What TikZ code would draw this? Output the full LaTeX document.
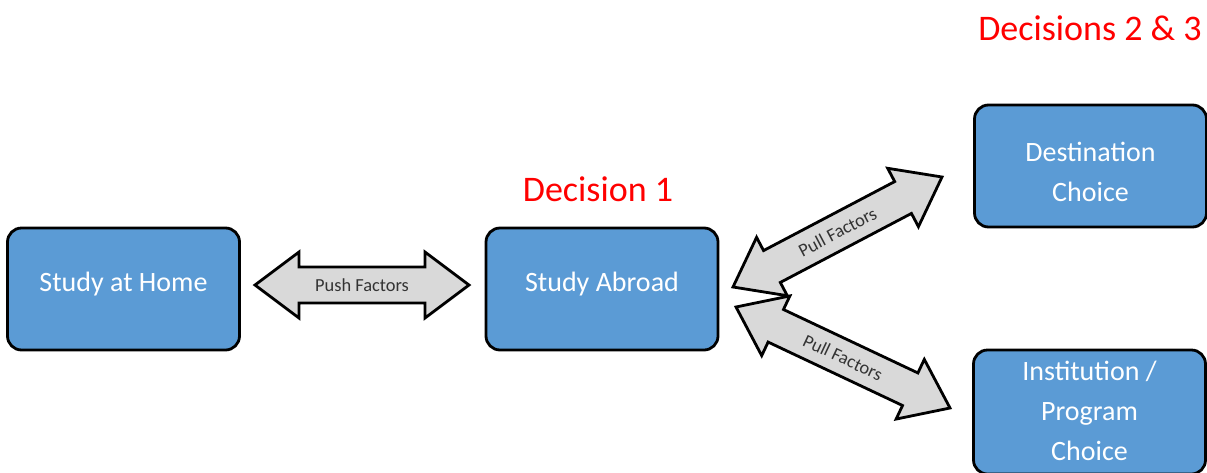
\documentclass[tikz,border=0pt]{standalone}
\usepackage{fontspec}
\setmainfont{Carlito}
\usetikzlibrary{calc}
\definecolor{boxblue}{HTML}{5B9BD5}
\definecolor{arrgray}{HTML}{D9D9D9}
\definecolor{decred}{HTML}{FF0000}
\def\ahl{44pt}
\def\ahw{33pt}
\def\asw{18pt}
% block double arrow between two named coordinates, with a label
\newcommand{\blockarrow}[3]{%
  \draw[blockarr] (#1)
    -- ($(#1)!\ahl!(#2)!\ahw!90:(#2)$)
    -- ($(#1)!\ahl!(#2)!\asw!90:(#2)$)
    -- ($(#2)!\ahl!(#1)!\asw!-90:(#1)$)
    -- ($(#2)!\ahl!(#1)!\ahw!-90:(#1)$)
    -- (#2)
    -- ($(#2)!\ahl!(#1)!\ahw!90:(#1)$)
    -- ($(#2)!\ahl!(#1)!\asw!90:(#1)$)
    -- ($(#1)!\ahl!(#2)!\asw!-90:(#2)$)
    -- ($(#1)!\ahl!(#2)!\ahw!-90:(#2)$)
    -- cycle;
  \path (#1) -- (#2) node[midway, sloped, arrlabel] {#3};
}
\newcommand{\shifttext}[2]{\raisebox{#1}[\height][\depth]{#2}}
\newcommand{\boxlines}[2]{\raisebox{#1}[\height][\depth]{\begin{tabular}{@{}c@{}}#2\end{tabular}}}
\begin{document}
\begin{tikzpicture}[x=1pt,y=-1pt,
  box/.style={draw=black, line width=2.8pt, fill=boxblue, rounded corners=14pt,
    minimum width=232pt, minimum height=122pt, text=white, align=center,
    inner sep=0pt, font=\fontsize{28}{40}\selectfont},
  blockarr/.style={draw=black, line width=2.8pt, fill=arrgray, line join=miter},
  arrlabel/.style={text=black!80, font=\fontsize{18.4}{20}\selectfont, inner sep=0pt},
  decision/.style={text=decred, font=\fontsize{36}{40}\selectfont, inner sep=0pt}]
\useasboundingbox (0,0) rectangle (1207,472);

\node[box] (home) at (123.5,289) {\shifttext{5pt}{Study at Home}};
\node[box] (abroad) at (602,289) {\shifttext{5pt}{Study Abroad}};
\node[box] (dest) at (1090.5,166) {\boxlines{-7.5pt}{Destination\\Choice}};
\node[box, minimum height=124pt] (inst) at (1089.5,412) {\boxlines{0pt}{Institution /\\Program\\Choice}};

\node[decision] (d1) at (598,189) {Decision 1};
\node[decision] (d23) at (1090,28) {Decisions 2 \& 3};

\coordinate (pushL) at (255,285);
\coordinate (pushR) at (469,285);
\coordinate (pullAU) at (733,287);
\coordinate (pullBU) at (942,177);
\coordinate (pullAL) at (736,307);
\coordinate (pullBL) at (950,408);

\blockarrow{pushL}{pushR}{Push Factors}
\blockarrow{pullAU}{pullBU}{Pull Factors}
\blockarrow{pullAL}{pullBL}{Pull Factors}
\end{tikzpicture}
\end{document}
